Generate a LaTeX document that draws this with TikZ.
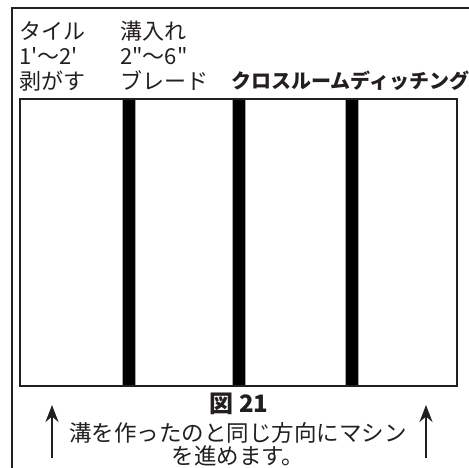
\documentclass[tikz,border=0pt]{standalone}
\usepackage{fontspec}
\newfontfamily\jp{Noto Sans CJK JP}
\usetikzlibrary{arrows.meta}
\definecolor{inkdark}{RGB}{35,31,32}
\begin{document}
\begin{tikzpicture}[x=1pt, y=-1pt,
	lbl/.style={inner sep=0pt, text=inkdark, font=\jp\fontsize{22}{25}\selectfont},
	captext/.style={inner sep=0pt, text=inkdark, font=\jp\fontsize{22.5}{23.5}\selectfont},
	bar/.style={fill=black, draw=black!35, line width=0.8pt},
	uparrow/.style={line width=2.2pt, inkdark, -{Stealth[length=17pt, width=13pt]}}]
	% Define the variables
	\def\L{20}
	\def\R{457}
	\def\T{99}
	\def\B{386}
	
	\useasboundingbox (0,0) rectangle (469,467);
	
	% Frame
	\draw[line width=2pt, inkdark] (12,480) -- (12,7.5) -- (480,7.5);
	
	% Board and grooves
	\draw[line width=1.4pt, inkdark] (\L,\T) rectangle (\R,\B);
	\foreach \x in {122,232,345}
	\draw[bar, shift={(\x,0)}] (0,\T) rectangle (13,\B);
	\draw[line width=1.4pt, inkdark] (\L,\T) rectangle (\R,\B);
	
	% Labels
	\node[lbl, anchor=north west, align=left] (tile) at (19,21) {タイル\\1'〜2'\\剥がす};
	\node[lbl, anchor=north west, align=left] (blade) at (120,21) {溝入れ\\2"〜6"\\ブレード};
	\node[lbl, anchor=base west, font=\jp\bfseries\fontsize{20}{25}\selectfont] (cross) at (231,88) {クロスルームディッチング};
	
	% Caption
	\node[captext, anchor=base, font=\jp\bfseries\fontsize{24}{25}\selectfont] (fig) at (239,412) {図 21};
	\node[captext, anchor=north, align=center] (note) at (238,422) {溝を作ったのと同じ方向にマシン\\を進めます。};
	
	% Arrows
	\coordinate (la0) at (52,458);
	\coordinate (la1) at (52,405);
	\coordinate (ra0) at (426,458);
	\coordinate (ra1) at (426,405);
	\draw[uparrow] (la0) -- (la1);
	\draw[uparrow] (ra0) -- (ra1);
\end{tikzpicture}
\end{document}
